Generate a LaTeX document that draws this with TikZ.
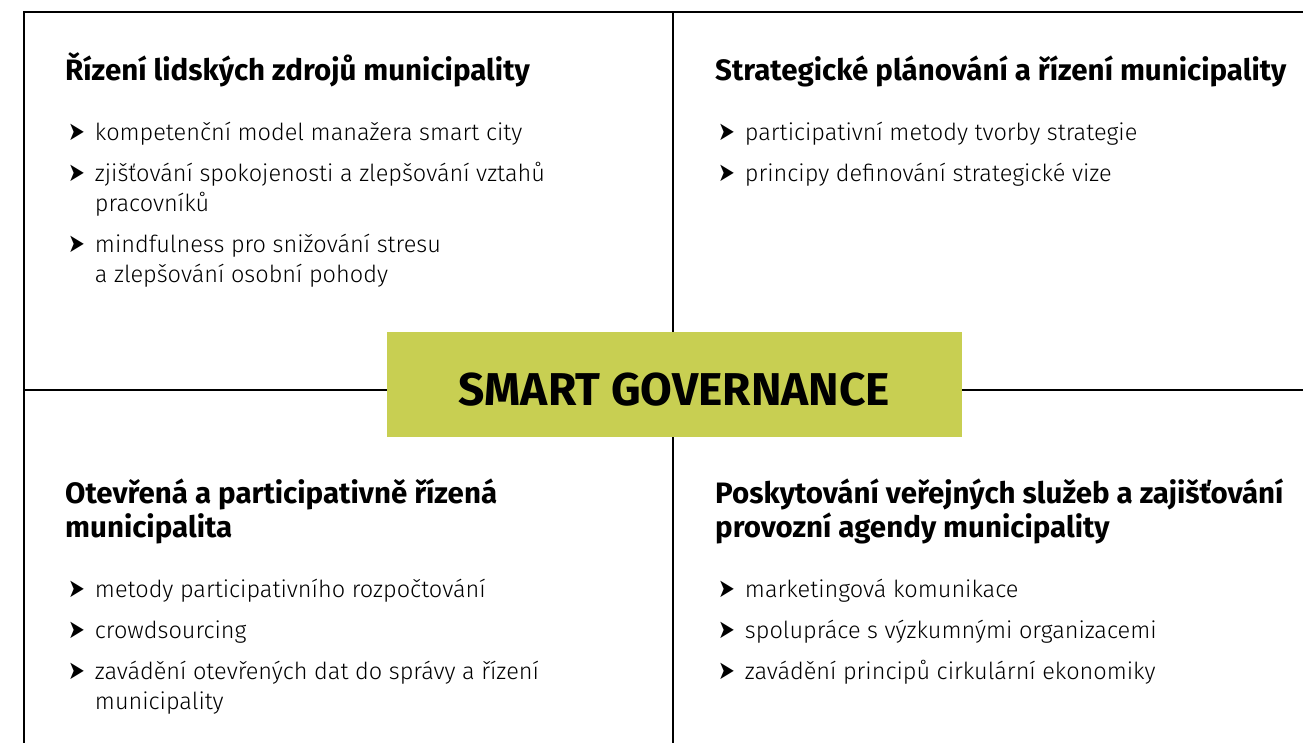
\documentclass[tikz,border=0pt]{standalone}
\usepackage{fontspec}
\setmainfont{Fira Sans Light}[BoldFont={Fira Sans Bold}]
\newfontfamily\arrowfont{DejaVu Sans}
\usepackage{graphicx}
\usepackage{tikz}
\definecolor{sgreen}{RGB}{200,207,82}
\newcommand{\bul}{\scalebox{1.0}[1.3]{\arrowfont\fontsize{20}{20}\selectfont\char"27A4}\hspace{10pt}}
\tikzset{
    rule/.style={line width=2.8pt, draw=black},
    head/.style={anchor=base west, align=left, inner sep=0pt,
        font=\bfseries\fontsize{29.5}{34}\selectfont},
    entry/.style={anchor=base west, align=left, inner sep=0pt,
        font=\fontsize{23.5}{30}\selectfont},
    core/.style={fill=sgreen, minimum width=575pt, minimum height=105pt,
        inner sep=0pt, text height=41pt, text depth=0pt,
        font=\bfseries\fontsize{46}{46}\selectfont}
}
% #2 is the baseline of the last line
\newcommand{\bulletline}[3] {
	\node[entry] (#1) at (#2) {\bul#3};
}

\begin{document}
\begin{tikzpicture}[x=1pt, y=-1pt]
		\useasboundingbox (0,0) rectangle (1303,743);

		% Frame
		\coordinate (tl) at (24,12);
		\coordinate (tr) at (1303,12);
		\coordinate (bl) at (24,743);
		\coordinate (mt) at (673,12);
		\coordinate (mb) at (673,743);
		\coordinate (ml) at (24,390);
		\coordinate (mr) at (1303,390);
		\draw[rule] (tr) -- (tl) -- (bl);
		\draw[rule] (mt) -- (mb);
		\draw[rule] (ml) -- (mr);

		% Centre
		\node[core] (title) at (674.5,384.5) {SMART GOVERNANCE};

		% Upper left
		\node[head] (hrz) at (65,81) {Řízení lidských zdrojů municipality};
		\bulletline{hrz1}{68,141}{kompetenční model manažera smart city}
		\bulletline{hrz2}{68,212}{zjišťování spokojenosti a zlepšování vztahů\\\hphantom{\bul}pracovníků}
		\bulletline{hrz3}{68,283}{mindfulness pro snižování stresu\\\hphantom{\bul}a zlepšování osobní pohody}

		% Upper right
		\node[head] (spr) at (715,81) {Strategické plánování a řízení municipality};
		\bulletline{spr1}{718,141}{participativní metody tvorby strategie}
		\bulletline{spr2}{718,182}{principy definování strategické vize}

		% Lower left
		\node[head] (opm) at (65,537) {Otevřená a participativně řízená\\municipalita};
		\bulletline{opm1}{68,597}{metody participativního rozpočtování}
		\bulletline{opm2}{68,638}{crowdsourcing}
		\bulletline{opm3}{68,709}{zavádění otevřených dat do správy a řízení\\\hphantom{\bul}municipality}

		% Lower right
		\node[head] (pvs) at (715,537) {Poskytování veřejných služeb a zajišťování\\provozní agendy municipality};
		\bulletline{pvs1}{718,597}{marketingová komunikace}
		\bulletline{pvs2}{718,638}{spolupráce s výzkumnými organizacemi}
		\bulletline{pvs3}{718,679}{zavádění principů cirkulární ekonomiky}

	\end{tikzpicture}
\end{document}
